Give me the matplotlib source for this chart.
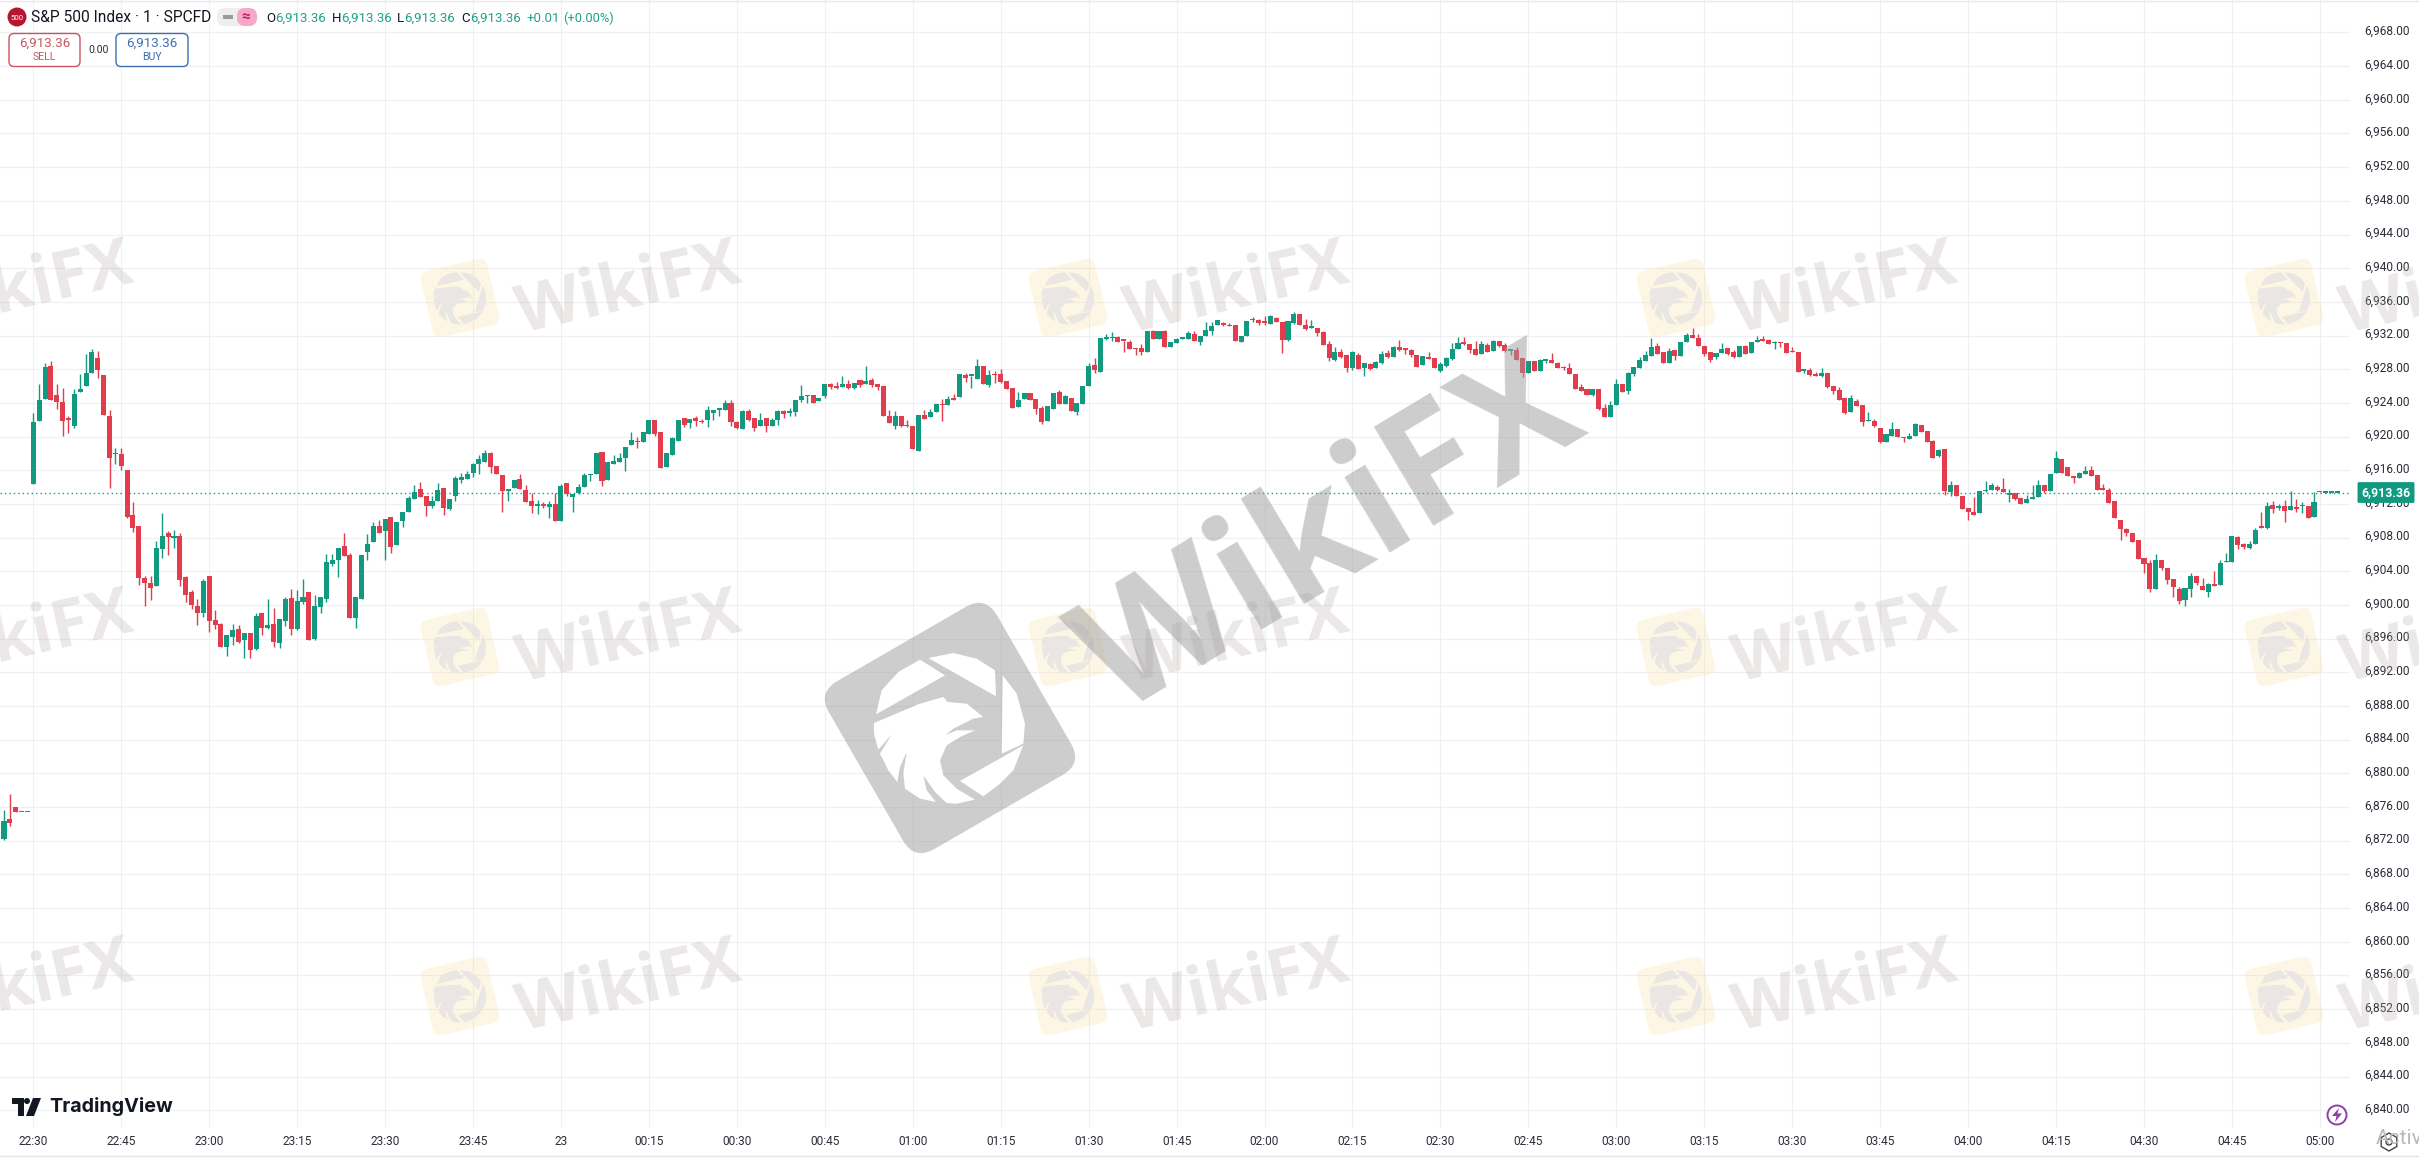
import numpy as np
import matplotlib
matplotlib.use("Agg")
from matplotlib import pyplot as plt
from matplotlib.patches import Circle, FancyBboxPatch, Polygon, Rectangle, RegularPolygon
from matplotlib.transforms import Affine2D, ScaledTranslation

plt.rcParams['font.family'] = ['Roboto', 'DejaVu Sans']

price_base = 6900
last_price = 6913.36

time_labels = ["22:30", "22:45", "23:00", "23:15", "23:30", "23:45", "23", "00:15", "00:30",
               "00:45", "01:00", "01:15", "01:30", "01:45", "02:00", "02:15", "02:30", "02:45",
               "03:00", "03:15", "03:30", "03:45", "04:00", "04:15", "04:30", "04:45", "05:00"]
price_ticks = list(range(6840, 6972, 4))

# five leftover candles from before the gap, then one candle a minute from 22:30
direction = ("GRRGR"
             "GGGRRRRGGG" "GRRRGRRRRR" "RGGRGRRRRG" "RRRGGRGRGR" "GRGGRGGRGG"
             "GGGRRGGGGR" "GRGGGGRRGG" "RGGGGGGGRR" "RGGRRRGRGR" "GRGGGGGRGG"
             "GGGRGGRRGG" "GRGRRGGGGR" "RGRRGRGGRG" "GGGRGGRRGR" "GRGRRRRGRR"
             "RGRGGRGRGR" "GGRGRRRRGG" "RRRGGRGRGG" "GRGGGRRRRR" "GRGRGGGGRG"
             "GGGRRRGGGR" "RGRRGGRRGR" "RRGRRGRGRG" "GRGRRRRGRR" "GGGGRRRGRG"
             "RRGRRGRGGR" "RRRRRRGRRG" "GRGGGGGRRG" "RGGRRRRGGR" "RGRGGRRGRR"
             "RRGRRGRRRR" "GRRGRRGGRR" "GGRRRGRGRR" "RRGGGRRGRR" "GGGRGGRRRG"
             "GRRRRRRRRR" "RRGRRRRGGR" "RGRGGGRRGG" "RGRGRGRGRG" "RGGG")

body_top = [-25.7, -25.4, -24.0, -24.6, -24.6,
    21.7, 24.4, 28.3, 28.4, 24.9, 24.1, 22.1, 25.1, 25.7, 27.6,
    30.0, 29.3, 27.3, 22.5, 18.0, 17.9, 16.0, 10.7, 9.4, 3.2,
    2.6, 6.8, 8.2, 8.5, 8.0, 8.2, 3.3, 1.5, -0.1, 2.8,
    3.4, -1.8, -2.3, -3.6, -3.0, -2.9, -3.3, -3.3, -1.3, -1.0,
    -2.4, -2.2, -1.7, 0.7, 0.8, 0.5, 1.0, 1.5, -0.1, 1.0,
    5.1, 5.4, 6.8, 7.0, 5.9, 1.0, 5.9, 7.2, 9.4, 9.4,
    10.2, 10.4, 9.8, 11.1, 12.7, 13.4, 13.8, 13.0, 12.4, 13.7,
    13.9, 12.6, 15.1, 15.2, 15.5, 16.7, 17.3, 18.0, 18.1, 16.5,
    15.4, 13.8, 14.8, 15.0, 13.7, 12.3, 12.0, 11.9, 12.0, 12.0,
    14.1, 14.5, 13.2, 14.0, 15.4, 15.5, 18.0, 18.2, 17.0, 17.1,
    17.4, 18.8, 19.6, 19.5, 20.5, 22.0, 22.0, 20.6, 18.0, 19.8,
    22.0, 22.2, 22.1, 22.2, 21.9, 23.2, 23.1, 23.3, 24.0, 24.0,
    21.7, 23.0, 23.0, 22.2, 22.0, 22.2, 22.0, 23.0, 23.0, 23.0,
    24.4, 24.8, 24.8, 25.0, 24.6, 26.3, 26.3, 26.0, 26.3, 26.3,
    26.4, 26.7, 26.6, 26.7, 26.2, 26.0, 22.4, 22.4, 22.5, 21.4,
    21.2, 22.6, 22.6, 22.9, 23.9, 23.9, 24.5, 24.5, 27.4, 27.3,
    27.2, 28.4, 28.4, 27.3, 27.4, 27.4, 26.6, 25.8, 24.4, 25.2,
    25.2, 24.5, 23.4, 23.6, 25.2, 25.3, 24.8, 24.6, 24.0, 26.0,
    28.4, 28.5, 31.7, 31.6, 31.7, 31.8, 31.4, 31.2, 30.5, 30.5,
    32.5, 32.6, 32.5, 32.6, 31.2, 31.6, 31.8, 32.3, 32.2, 31.9,
    32.7, 33.1, 33.8, 33.5, 33.2, 33.2, 31.9, 33.7, 33.9, 33.8,
    33.6, 34.3, 34.1, 33.6, 33.7, 34.6, 34.6, 33.3, 33.0, 32.9,
    32.4, 31.0, 30.0, 30.0, 29.7, 30.0, 29.7, 28.7, 28.6, 28.9,
    29.8, 29.9, 30.6, 30.6, 30.4, 30.3, 29.7, 29.6, 29.4, 29.3,
    28.6, 29.3, 30.4, 31.1, 31.1, 31.0, 30.4, 31.0, 30.9, 31.4,
    31.4, 30.9, 30.3, 30.3, 29.3, 29.0, 29.0, 29.1, 29.1, 29.1,
    28.7, 28.2, 28.2, 27.4, 25.9, 25.7, 25.6, 25.6, 23.4, 23.8,
    26.3, 26.3, 27.6, 28.3, 29.1, 29.7, 30.7, 30.8, 30.0, 30.2,
    30.3, 31.2, 32.1, 32.1, 31.7, 30.8, 30.0, 29.9, 30.4, 30.5,
    30.0, 30.8, 30.8, 31.2, 31.5, 31.5, 31.5, 31.2, 31.2, 31.1,
    30.1, 30.0, 27.8, 27.9, 27.4, 27.5, 27.5, 26.0, 25.5, 24.6,
    24.6, 24.2, 23.7, 21.9, 21.9, 21.0, 20.3, 20.9, 20.9, 20.0,
    20.1, 21.5, 21.4, 20.7, 19.5, 18.4, 18.5, 14.3, 14.2, 12.9,
    11.5, 11.1, 13.5, 13.6, 14.2, 14.0, 13.8, 13.3, 13.3, 12.7,
    12.6, 12.8, 14.3, 14.3, 15.6, 17.4, 17.3, 16.4, 15.3, 15.7,
    15.9, 16.0, 15.4, 13.7, 13.7, 12.3, 10.1, 9.0, 8.5, 7.7,
    5.6, 5.0, 5.3, 5.4, 4.4, 3.1, 1.9, 2.0, 3.4, 3.4,
    2.2, 2.5, 2.4, 5.0, 5.2, 8.2, 8.1, 7.3, 7.2, 8.9,
    9.4, 11.8, 11.9, 11.8, 11.7, 11.7, 11.5, 11.8, 11.7, 12.2,
    13.5, 13.4, 13.4, 13.36]

body_bottom = [-27.8, -25.9, -24.6, -24.6, -24.6,
    14.4, 21.8, 24.5, 24.3, 24.1, 21.8, 22.0, 21.3, 25.3, 26.0,
    27.5, 27.9, 22.6, 17.5, 17.9, 16.5, 10.4, 9.2, 3.2, 2.6,
    2.0, 2.3, 6.6, 8.1, 8.0, 3.0, 1.2, 0.0, -0.9, -1.0,
    -1.9, -2.4, -5.0, -5.0, -3.8, -4.4, -4.2, -5.3, -5.2, -2.7,
    -2.7, -4.4, -4.5, -1.9, -2.9, -2.9, 0.4, -4.2, -4.0, -0.2,
    0.7, 4.9, 5.3, 5.8, -1.6, -1.6, 0.7, 6.3, 7.5, 8.6,
    8.8, 6.9, 7.1, 10.0, 11.0, 12.6, 12.8, 11.8, 11.8, 12.4,
    11.5, 11.4, 13.0, 14.8, 15.0, 15.7, 16.7, 17.0, 16.4, 15.6,
    13.5, 13.5, 13.9, 13.8, 12.2, 11.8, 11.8, 11.8, 11.6, 10.0,
    10.0, 13.2, 12.8, 13.3, 14.0, 15.4, 15.5, 14.7, 14.8, 16.8,
    17.0, 17.5, 19.0, 19.3, 19.4, 20.3, 20.3, 16.3, 16.4, 17.8,
    19.5, 21.4, 21.6, 21.8, 21.7, 22.0, 22.8, 23.2, 23.1, 21.7,
    21.0, 20.9, 22.0, 21.0, 21.2, 21.2, 21.3, 22.0, 22.7, 22.8,
    22.9, 24.3, 24.8, 24.0, 24.2, 24.8, 25.9, 25.8, 25.9, 25.8,
    25.8, 26.1, 26.2, 26.1, 25.9, 22.5, 21.6, 21.3, 21.3, 21.2,
    18.5, 18.3, 22.1, 22.3, 22.9, 23.7, 23.8, 24.4, 24.7, 27.0,
    27.2, 26.9, 26.3, 26.1, 27.3, 26.5, 25.7, 23.4, 23.5, 24.5,
    24.3, 23.3, 21.7, 21.9, 23.3, 23.9, 23.9, 23.0, 22.9, 23.9,
    26.0, 27.9, 27.7, 31.6, 31.7, 31.2, 31.4, 30.4, 30.4, 30.0,
    30.1, 31.6, 31.6, 30.6, 30.6, 31.1, 31.6, 31.6, 31.3, 31.2,
    31.9, 32.5, 33.2, 33.2, 33.1, 31.3, 31.2, 32.0, 33.8, 33.5,
    33.5, 33.4, 33.6, 31.5, 31.5, 33.5, 33.2, 32.8, 32.9, 32.3,
    30.9, 29.3, 29.1, 29.4, 28.2, 28.1, 28.0, 28.2, 28.0, 28.2,
    28.8, 29.4, 29.4, 30.3, 30.3, 29.7, 28.3, 28.5, 29.2, 28.1,
    27.8, 28.4, 29.2, 30.4, 31.0, 30.3, 29.7, 29.8, 30.1, 30.2,
    30.8, 30.2, 30.2, 29.1, 27.6, 27.6, 27.8, 27.8, 29.0, 28.8,
    28.2, 28.1, 27.4, 25.7, 25.4, 25.0, 24.9, 23.3, 22.3, 22.3,
    23.7, 25.3, 25.4, 27.4, 28.2, 29.0, 29.6, 29.8, 28.8, 28.8,
    29.6, 29.6, 31.2, 31.7, 30.8, 29.8, 29.1, 29.4, 29.9, 29.8,
    29.4, 29.5, 29.8, 29.9, 31.2, 31.4, 31.0, 31.1, 31.1, 29.9,
    30.0, 27.7, 27.8, 27.3, 27.2, 27.2, 25.9, 25.4, 24.4, 22.8,
    22.9, 23.6, 21.7, 21.8, 21.2, 19.3, 19.4, 20.1, 19.9, 19.8,
    19.7, 20.1, 20.6, 19.4, 17.5, 17.7, 13.5, 13.4, 12.9, 11.4,
    11.1, 10.7, 10.9, 13.5, 13.7, 13.6, 13.4, 13.1, 12.6, 12.0,
    12.1, 12.6, 12.8, 13.5, 13.5, 15.7, 15.7, 15.3, 15.1, 15.1,
    15.6, 15.3, 13.7, 13.7, 12.1, 10.3, 9.0, 8.6, 7.5, 5.5,
    4.9, 1.9, 1.9, 4.4, 3.0, 2.1, 0.5, 0.6, 1.9, 2.6,
    1.8, 1.5, 2.3, 2.4, 5.1, 5.1, 7.1, 6.9, 6.8, 7.2,
    9.2, 9.1, 11.4, 11.5, 11.2, 11.3, 11.4, 11.7, 10.3, 10.5,
    13.4, 13.3, 13.3, 13.36]

highs = [-24.4, -22.4, -24.0, -24.6, -24.6,
    22.8, 26.2, 28.8, 29.0, 26.2, 25.8, 22.5, 25.6, 27.4, 29.8,
    30.4, 30.2, 27.3, 23.2, 18.7, 18.6, 16.0, 12.2, 9.4, 3.5,
    3.4, 7.6, 10.9, 8.8, 8.9, 8.5, 3.5, 1.8, 0.7, 3.1,
    3.4, -0.6, -2.1, -3.6, -2.3, -2.4, -3.3, -3.3, -0.9, -1.0,
    0.7, -0.3, -1.7, 1.0, 1.9, 1.8, 3.1, 1.5, 1.2, 1.0,
    6.1, 6.0, 6.8, 8.5, 6.2, 1.0, 5.9, 8.4, 9.8, 10.1,
    10.2, 10.4, 9.8, 11.1, 13.0, 14.3, 14.6, 13.0, 12.9, 14.5,
    13.9, 12.6, 15.3, 15.7, 15.9, 16.9, 17.8, 18.4, 18.2, 16.5,
    15.4, 13.8, 14.8, 15.5, 14.2, 13.3, 12.5, 12.2, 12.3, 13.3,
    14.4, 14.5, 13.2, 14.4, 15.7, 15.5, 18.0, 18.2, 17.0, 17.8,
    18.1, 18.8, 20.6, 20.0, 20.5, 22.0, 22.0, 20.6, 18.0, 20.0,
    22.0, 22.2, 22.1, 22.4, 22.1, 23.6, 23.1, 23.3, 24.4, 24.3,
    21.9, 23.2, 23.3, 22.2, 22.8, 22.2, 22.2, 23.1, 23.1, 23.4,
    24.4, 26.1, 25.0, 25.0, 24.6, 26.3, 26.4, 26.5, 27.2, 26.7,
    26.4, 26.7, 28.4, 27.0, 26.3, 26.0, 23.1, 23.0, 22.5, 22.0,
    21.2, 22.6, 23.2, 23.3, 23.9, 24.5, 24.8, 25.1, 27.4, 27.6,
    27.2, 29.2, 28.4, 27.9, 27.8, 28.0, 26.6, 25.8, 25.3, 25.2,
    25.2, 24.5, 23.6, 23.6, 25.2, 25.5, 24.9, 24.6, 24.0, 26.0,
    28.8, 29.3, 31.7, 32.2, 32.4, 32.0, 31.4, 31.5, 30.5, 31.0,
    32.5, 32.7, 32.5, 32.7, 31.2, 31.7, 31.8, 32.5, 32.5, 31.9,
    33.6, 33.6, 33.8, 33.6, 33.5, 33.2, 31.9, 33.7, 34.2, 34.0,
    34.3, 34.4, 34.2, 33.6, 33.7, 34.8, 34.6, 34.0, 33.8, 32.9,
    32.6, 31.3, 30.6, 30.4, 29.7, 30.2, 29.9, 28.7, 28.7, 29.0,
    30.2, 30.3, 30.8, 31.5, 30.4, 30.4, 29.7, 29.6, 30.0, 29.3,
    28.9, 29.4, 31.1, 31.8, 31.8, 31.0, 31.3, 31.3, 31.1, 31.5,
    31.4, 31.1, 30.3, 30.7, 29.3, 29.0, 29.0, 29.2, 29.2, 29.9,
    28.9, 28.4, 28.7, 27.4, 26.3, 25.7, 25.6, 25.6, 23.9, 24.2,
    26.8, 26.3, 27.7, 28.3, 29.5, 30.2, 31.7, 31.1, 30.0, 30.5,
    30.3, 31.2, 32.3, 32.9, 32.2, 30.8, 30.0, 29.9, 31.1, 30.5,
    30.3, 30.8, 30.9, 31.2, 31.9, 31.9, 31.6, 31.3, 31.2, 31.1,
    30.7, 30.0, 28.0, 28.2, 27.7, 28.1, 27.5, 26.0, 25.9, 24.6,
    25.0, 24.5, 23.7, 22.9, 22.1, 21.0, 20.3, 21.7, 20.9, 20.0,
    20.4, 21.6, 21.4, 20.7, 19.6, 18.5, 18.5, 14.7, 14.2, 12.9,
    11.5, 12.8, 13.5, 14.7, 14.5, 14.2, 15.1, 13.8, 13.3, 12.7,
    13.1, 14.2, 14.9, 14.3, 15.6, 18.3, 17.3, 16.4, 15.3, 15.8,
    16.5, 16.5, 15.4, 14.4, 13.9, 12.3, 10.1, 9.1, 8.6, 7.7,
    5.6, 5.4, 6.1, 5.4, 4.4, 3.1, 2.1, 2.0, 3.8, 3.4,
    3.2, 2.6, 4.0, 5.4, 6.2, 8.2, 8.2, 7.4, 7.6, 9.2,
    11.0, 12.2, 12.3, 12.0, 12.5, 13.5, 12.6, 12.2, 11.7, 13.4,
    13.5, 13.4, 13.4, 13.36]

lows = [-27.9, -26.2, -24.6, -24.6, -24.6,
    14.4, 21.8, 24.5, 24.3, 23.3, 20.1, 20.4, 21.0, 25.3, 26.0,
    27.5, 27.0, 22.6, 13.9, 16.7, 16.0, 10.3, 8.7, 2.4, -0.1,
    0.6, 2.2, 5.6, 5.9, 6.8, 2.2, 0.4, -0.5, -2.4, -1.4,
    -3.2, -2.8, -5.0, -6.1, -4.8, -4.5, -6.3, -6.3, -5.3, -3.6,
    -2.8, -5.0, -5.1, -2.5, -3.6, -3.0, 0.1, -4.2, -4.1, -0.9,
    0.3, 4.6, 3.3, 5.8, -1.6, -2.7, 0.7, 5.3, 7.5, 8.6,
    5.4, 6.2, 7.1, 9.3, 11.0, 12.6, 12.8, 10.6, 11.5, 12.4,
    10.7, 11.3, 12.3, 14.5, 15.0, 15.2, 15.5, 17.0, 15.7, 15.6,
    11.1, 12.3, 13.9, 13.8, 12.2, 10.9, 10.8, 11.5, 10.3, 10.0,
    10.0, 13.0, 11.0, 13.2, 14.0, 14.7, 15.5, 14.1, 14.8, 16.7,
    17.0, 15.9, 19.0, 18.7, 19.3, 20.3, 20.1, 16.3, 16.4, 17.8,
    19.5, 21.1, 21.0, 21.2, 21.6, 21.1, 22.0, 22.5, 23.1, 21.2,
    20.9, 20.9, 21.8, 20.7, 21.2, 20.6, 21.2, 21.4, 22.2, 22.4,
    22.4, 24.1, 24.0, 24.0, 24.2, 24.6, 25.7, 25.6, 25.9, 25.7,
    25.6, 25.9, 26.2, 25.9, 25.5, 22.5, 21.6, 20.9, 21.1, 21.1,
    18.5, 18.3, 22.1, 22.3, 22.9, 21.9, 23.8, 24.3, 24.7, 26.5,
    25.8, 26.8, 26.3, 25.9, 26.4, 26.4, 25.7, 23.4, 23.5, 24.5,
    24.3, 22.7, 21.5, 21.9, 23.3, 23.9, 23.9, 23.0, 22.6, 23.9,
    26.0, 27.6, 27.7, 31.5, 31.3, 31.2, 30.0, 30.4, 29.7, 29.7,
    30.1, 31.6, 31.6, 30.6, 30.6, 31.1, 31.6, 31.6, 31.3, 30.9,
    31.9, 32.1, 33.2, 33.1, 33.1, 31.3, 31.2, 32.0, 33.6, 33.2,
    33.2, 33.4, 33.6, 29.9, 31.4, 33.4, 33.2, 32.7, 32.9, 31.9,
    30.9, 29.0, 29.0, 29.3, 27.7, 27.9, 28.0, 27.2, 27.9, 28.2,
    28.6, 29.3, 29.4, 30.2, 29.8, 29.4, 28.3, 28.5, 29.2, 28.1,
    27.7, 28.3, 29.1, 30.4, 30.9, 29.9, 29.7, 29.8, 30.0, 30.2,
    30.7, 30.1, 29.7, 29.1, 27.1, 27.6, 27.8, 27.8, 28.8, 28.8,
    28.1, 27.9, 27.4, 25.7, 25.4, 25.0, 24.8, 23.2, 22.3, 22.3,
    23.7, 25.3, 25.1, 27.2, 28.1, 29.0, 29.6, 29.8, 28.8, 28.8,
    29.1, 29.6, 31.2, 31.7, 30.8, 29.6, 28.9, 29.2, 29.9, 29.7,
    29.3, 29.5, 29.8, 29.9, 31.2, 31.3, 31.0, 30.4, 30.6, 29.9,
    30.0, 27.7, 27.5, 27.2, 27.2, 27.1, 25.8, 25.1, 24.4, 22.7,
    22.9, 23.6, 21.2, 21.8, 21.1, 19.2, 19.3, 20.1, 19.9, 19.4,
    19.7, 20.1, 20.6, 19.4, 17.5, 17.6, 13.1, 13.0, 12.9, 11.4,
    10.1, 10.7, 10.9, 13.4, 13.7, 13.5, 13.4, 12.2, 12.5, 12.0,
    12.1, 12.6, 12.8, 13.3, 13.5, 15.7, 15.7, 15.3, 14.5, 15.1,
    15.6, 15.3, 13.7, 13.7, 12.1, 10.3, 7.7, 8.2, 7.5, 5.5,
    3.8, 1.6, 1.9, 4.2, 2.5, 1.0, 0.1, -0.1, 0.9, 2.4,
    1.8, 0.9, 2.2, 2.4, 5.1, 5.1, 6.6, 6.6, 6.7, 7.2,
    9.2, 9.0, 10.9, 11.3, 9.9, 11.3, 11.1, 10.9, 10.3, 10.5,
    13.4, 13.3, 13.3, 13.36]

UP = "#129a80"
DOWN = "#e33c4c"
GRID = "#eff0f3"
TXT = "#2a2e39"
TEAL = "#22a08a"

W, H = 2419, 1159
fig = plt.figure(figsize=(W / 100, H / 100), dpi=100, facecolor="white")

# price pane: right edge at 2350 px, bottom at 1128 px
ax = fig.add_axes([0, 1 - 1128 / H, 2350 / W, 1128 / H])
minute = np.arange(len(direction)) - 5
top = np.array(body_top) + price_base
bottom = np.array(body_bottom) + price_base
colors = [UP if d == "G" else DOWN for d in direction]

ax.vlines(minute, np.array(lows) + price_base, np.array(highs) + price_base,
          colors=colors, lw=1.0, zorder=2)
ax.bar(minute, np.maximum(top - bottom, 0.18), bottom=bottom, width=0.86,
       color=colors, linewidth=0, zorder=3)
ax.axhline(last_price, color=UP, lw=1.0, ls=(0, (1, 2.2)), zorder=1.5)

ax.set_xlim(-33.3 / 5.863, (2350 - 33.3) / 5.863)
ax.set_ylim(6900 - (1128 - 605) / 8.42, 6900 + 605 / 8.42)
ax.set_xticks(np.arange(len(time_labels)) * 15)
ax.set_xticklabels(time_labels)
ax.set_yticks(price_ticks)
ax.set_yticklabels([f"{p:,.2f}" for p in price_ticks])
ax.yaxis.tick_right()
ax.tick_params(axis="both", length=0, labelsize=8.6, labelcolor=TXT)
ax.tick_params(axis="y", pad=10.5)
ax.tick_params(axis="x", pad=5)
# price labels sit a little above their grid lines
label_shift = ScaledTranslation(0, 2.5 / 100, fig.dpi_scale_trans)
for lab in ax.get_yticklabels():
    lab.set_transform(lab.get_transform() + label_shift)
ax.grid(True, color=GRID, lw=0.9)
ax.set_axisbelow(True)
for s in ax.spines.values():
    s.set_visible(False)
ax.text(2386 / 2350, last_price, f"{last_price:,.2f}", transform=ax.get_yaxis_transform(),
        ha="center", va="center", color="white", fontsize=8.8, fontweight="bold", zorder=6,
        bbox=dict(boxstyle="round,pad=0.32,rounding_size=0.12", fc=UP, ec="none"))

# overlay in screen pixels for watermark, legend and logos
ov = fig.add_axes([0, 0, 1, 1], facecolor="none")
ov.set_xlim(0, W)
ov.set_ylim(H, 0)
ov.axis("off")

eagle_shapes = [
    [(330, 208), (405, 255), (198, 372), (215, 300), (265, 245)],
    [(355, 203), (430, 188), (500, 205), (555, 240), (558, 318)],
    [(578, 255), (620, 310), (645, 400), (640, 460), (575, 490)],
    [(640, 465), (610, 540), (570, 580), (520, 618), (450, 572)],
    [(192, 398), (330, 340), (400, 320), (412, 335), (470, 340), (520, 380), (490, 385),
     (430, 415), (405, 435), (440, 420), (495, 420), (450, 440), (410, 465), (390, 510),
     (400, 555), (440, 595), (495, 628), (440, 640), (410, 638), (375, 605), (340, 555),
     (350, 600), (378, 635), (330, 625), (285, 595), (280, 550), (290, 485), (270, 530),
     (262, 575), (235, 540), (210, 490), (245, 432), (205, 478), (192, 430)],
]


def draw_logo(cx, cy, side, angle, back, fore, alpha, z):
    k = side / 194
    tr = Affine2D().rotate_deg(angle).scale(k).translate(cx, cy) + ov.transData
    ov.add_patch(FancyBboxPatch((-97, -97), 194, 194, boxstyle="round,pad=0,rounding_size=23",
                                transform=tr, fc=back, ec="none", alpha=alpha, zorder=z))
    for shape in eagle_shapes:
        pts = (np.array(shape) - [420, 413]) / 3
        tr2 = Affine2D().rotate_deg(angle + 30).scale(k).translate(cx, cy) + ov.transData
        ov.add_patch(Polygon(pts, transform=tr2, fc=fore, ec="none", zorder=z + 0.1))


for wy in [298, 647, 996]:
    for wx in [-148, 460, 1068, 1676, 2284]:
        draw_logo(wx, wy, 68, -13, "#f9d98a", "#e9e6e3", 0.22, 4)
        ov.text(wx + 169, wy - 8, "WikiFX", rotation=13, ha="center", va="center",
                rotation_mode="anchor", fontsize=48, fontweight="bold", family="Open Sans",
                color="#b5aca8", alpha=0.27, zorder=4.2, clip_on=True)

draw_logo(950, 728, 194, -30, "#9c9c9c", "white", 0.5, 5)
ov.text(1332, 538, "WikiFX", rotation=31, ha="center", va="center", rotation_mode="anchor",
        fontsize=116, fontweight="bold", family="Open Sans", color="#9c9c9c", alpha=0.5, zorder=5)

# legend row
ov.plot([0, W], [1, 1], color="#e6e8ee", lw=1, zorder=7)
ov.plot([0, W], [1156, 1156], color="#e0e3eb", lw=1, zorder=7)
ov.add_patch(Circle((17, 17), 9.5, fc="#b8152f", ec="none", zorder=8))
ov.text(17, 17.5, "500", color="white", fontsize=5.6, ha="center", va="center", zorder=9)
ov.text(31, 18, "S&P 500 Index · 1 · SPCFD", color="#131722", fontsize=11.2, ha="left", va="center", zorder=9)
ov.add_patch(FancyBboxPatch((217, 8), 36, 18, boxstyle="round,pad=0,rounding_size=8", fc="#eeeeee", ec="none", zorder=8))
ov.add_patch(FancyBboxPatch((237, 8), 20, 18, boxstyle="round,pad=0,rounding_size=8", fc="#f6a9c6", ec="none", zorder=8))
ov.add_patch(Rectangle((223, 15), 10, 4, fc="#9a9a9a", ec="none", zorder=9))
ov.text(246, 17, "≈", color="#c2185b", fontsize=11, ha="center", va="center", fontweight="bold", zorder=9)
ohlc = [(266, "O", 275, "6,913.36"), (332, "H", 341, "6,913.36"), (397, "L", 404, "6,913.36"), (461, "C", 470, "6,913.36")]
for lx, letter, vx, value in ohlc:
    ov.text(lx, 18, letter, color="#131722", fontsize=9.5, ha="left", va="center", zorder=9)
    ov.text(vx, 18, value, color=TEAL, fontsize=9.5, ha="left", va="center", zorder=9)
ov.text(527, 18, "+0.01", color=TEAL, fontsize=9.5, ha="left", va="center", zorder=9)
ov.text(563, 18, "(+0.00%)", color=TEAL, fontsize=9.3, ha="left", va="center", zorder=9)

# sell / buy buttons
for x0, x1, edge, label in [(9, 80, "#c9555f", "SELL"), (116, 188, "#3f6db3", "BUY")]:
    ov.add_patch(FancyBboxPatch((x0, 33.5), x1 - x0, 33, boxstyle="round,pad=0,rounding_size=5",
                                fc="white", ec=edge, lw=1, zorder=8))
    ov.text((x0 + x1) / 2, 43, "6,913.36", color=edge, fontsize=9.6, ha="center", va="center", zorder=9)
    ov.text((x0 + x1) / 2, 57.5, label, color=edge, fontsize=7.6, ha="center", va="center", zorder=9)
ov.text(99, 50, "0.00", color=TXT, fontsize=7.6, ha="center", va="center", zorder=9)

# TradingView mark and name
ov.add_patch(Polygon([(12, 1098), (24, 1098), (24, 1116), (18, 1116), (18, 1104), (12, 1104)], fc="#131722", ec="none", zorder=8))
ov.add_patch(Circle((27, 1101), 3, fc="#131722", ec="none", zorder=8))
ov.add_patch(Polygon([(33, 1098), (41, 1098), (34, 1116), (26, 1116)], fc="#131722", ec="none", zorder=8))
ov.text(49, 1107, "TradingView", color="#131722", fontsize=14.2, fontweight="bold", family="Inter",
        ha="left", va="center", zorder=9)

# bolt button, settings hexagon, windows activation text
ov.add_patch(Circle((2337, 1115), 9.5, fc="white", ec="#8e3fa8", lw=1.4, zorder=8))
ov.add_patch(Polygon([(2339, 1108), (2332, 1116), (2336.5, 1116), (2335, 1122), (2342, 1113.5), (2337.5, 1113.5)],
                     fc="#8e3fa8", ec="none", zorder=9))
ov.add_patch(RegularPolygon((2389, 1142), 6, radius=9, fc="none", ec="#444444", lw=1, zorder=8))
ov.add_patch(Circle((2389, 1142), 3, fc="none", ec="#444444", lw=1, zorder=8))
ov.text(2376, 1138, "Activ", color="#b8b8b8", fontsize=15, ha="left", va="center", zorder=9)

fig.savefig("out.png", dpi=100)
